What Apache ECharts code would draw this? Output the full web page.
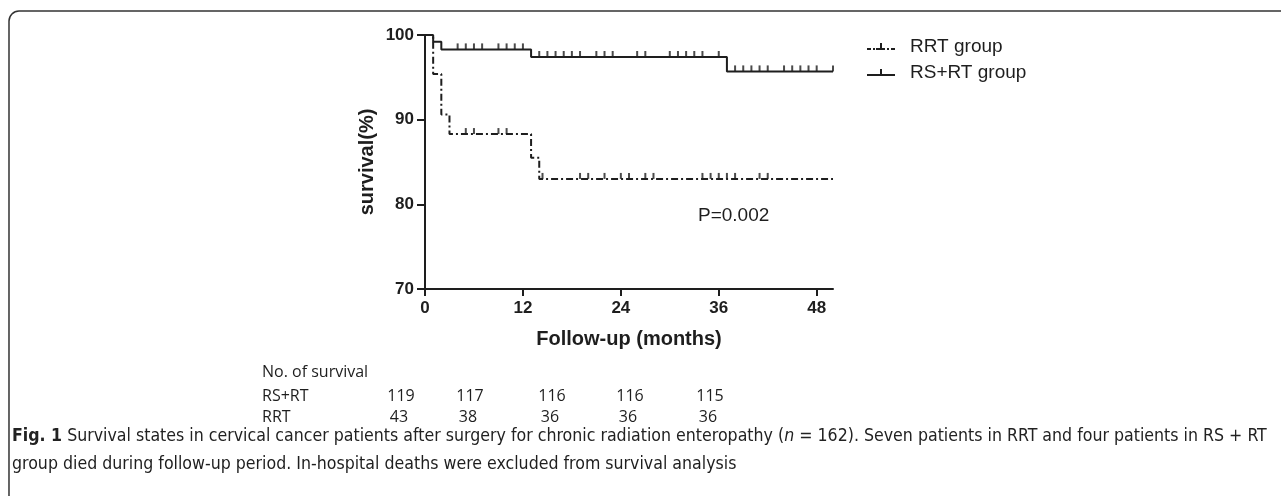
<!DOCTYPE html>
<html>
<head>
<meta charset="UTF-8" />
<script type="text/javascript" src="https://cdn.jsdelivr.net/npm/echarts@6.0.0/dist/echarts.min.js"></script>
<style>
  html, body { margin: 0; padding: 0; background: #fff; }
  #chartmain { width: 1281px; height: 496px; }
</style>
</head>
<body>
<div id="chartmain"></div>
<script type="text/javascript">
	// Kaplan-Meier steps (months, survival %)
	var rsTimes = [0, 1, 2, 13, 37, 50];
	var rsSurv = [100, 99.2, 98.3, 97.4, 95.7, 95.7];
	var rrtTimes = [0, 1, 2, 3, 13, 14, 50];
	var rrtSurv = [100, 95.4, 90.6, 88.3, 85.5, 83.0, 83.0];

	// censored cases (tick marks)
	var rsCensor = [4, 5, 6, 7, 9, 10, 11, 12, 14, 15, 16, 17, 18, 19, 21, 22, 23, 26, 27, 30, 31, 32, 33, 34, 36,
		38, 39, 40, 41, 42, 44, 45, 46, 47, 48, 50];
	var rrtCensor = [5, 6, 9, 10, 14.4, 19, 20, 22, 24, 25, 27, 28, 34, 35, 36, 37, 38, 41, 42];

	// axis ticks and the "No. of survival" table
	var tickMonths = [0, 12, 24, 36, 48];
	var rsAlive = [119, 117, 116, 116, 115];
	var rrtAlive = [43, 38, 36, 36, 36];

	var ink = '#1e1e1e';
	var arial = 'Liberation Sans, Arial, sans-serif';
	var tableFont = 'Open Sans, Noto Sans, sans-serif';
	var capFont = 'Liberation Sans Narrow, DejaVu Sans Condensed, sans-serif';
	var colX = [401, 470, 552, 630, 710];   // table column centres (px)

	function pairs(xs, ys) {
		var out = [];
		for (var i = 0; i < xs.length; i++) out.push([xs[i], ys[i]]);
		return out;
	}
	// survival value at time t (step function lookup)
	function survAt(xs, ys, t) {
		var v = ys[0];
		for (var i = 0; i < xs.length; i++) { if (xs[i] <= t) v = ys[i]; }
		return v;
	}
	function censorPts(cs, xs, ys) {
		return cs.map(function (t) { return [t, survAt(xs, ys, t)]; });
	}
	function label(txt, x, y, font, align) {
		return { type: 'text', x: x, y: y, silent: true,
			style: { text: txt, font: font, fill: ink, align: align || 'left', verticalAlign: 'middle' } };
	}

	var rrtIcon = 'path://M0,5h4v2h-4z M6,5h2v2h-2z M9,5h9v2h-9z M13,0h2v5h-2z M20,5h2v2h-2z M24,5h4v2h-4z';
	var rsIcon = 'path://M0,5h28v2h-28z M13,0h2v5h-2z';

	var graphics = [{
		type: 'rect', shape: { x: 9, y: 11, width: 1300, height: 520, r: 10 }, silent: true,
		style: { fill: 'none', stroke: '#333', lineWidth: 1.5 }
	},
		label('P=0.002', 698, 216, '19px ' + arial),
		label('No. of survival', 262, 372, '16px ' + tableFont),
		label('RS+RT', 262, 396, '16px ' + tableFont),
		label('RRT', 262, 417, '16px ' + tableFont)
	];
	for (var i = 0; i < tickMonths.length; i++) {
		graphics.push(label(String(rsAlive[i]), colX[i], 396, '16px ' + tableFont, 'center'));
		graphics.push(label(String(rrtAlive[i]), colX[i] - 2, 417, '16px ' + tableFont, 'center'));
	}
	graphics.push({
		type: 'text', x: 12, y: 436, silent: true,
		style: {
			text: '{b|Fig. 1} Survival states in cervical cancer patients after surgery for chronic radiation enteropathy ({i|n} = 162). Seven patients in RRT and four patients in RS + RT',
			font: '17.6px ' + capFont, fill: '#222', verticalAlign: 'middle',
			rich: {
				b: { fontWeight: 'bold', fontSize: 17.6, fontFamily: capFont, fill: '#222' },
				i: { fontStyle: 'italic', fontSize: 17.6, fontFamily: capFont, fill: '#222' }
			}
		}
	});
	graphics.push(label('group died during follow-up period. In-hospital deaths were excluded from survival analysis',
		12, 464, '17.6px ' + capFont));

	var option = {
		animation: false,
		grid: { left: 425, right: 448, top: 35, height: 254 },
		legend: {
			orient: 'vertical', left: 862, top: 32, itemWidth: 28, itemHeight: 7, itemGap: 7,
			textStyle: { fontFamily: arial, fontSize: 19, color: ink, padding: [0, 0, 0, 10] },
			data: [
				{ name: 'RRT group', icon: rrtIcon, itemStyle: { color: ink } },
				{ name: 'RS+RT group', icon: rsIcon, itemStyle: { color: ink } }
			]
		},
		xAxis: {
			type: 'value', min: 0, max: 50,
			name: 'Follow-up (months)', nameLocation: 'middle', nameGap: 40,
			nameTextStyle: { fontFamily: arial, fontWeight: 'bold', fontSize: 20, color: ink },
			axisLine: { lineStyle: { color: ink, width: 2 } },
			axisTick: { customValues: tickMonths, length: 7, lineStyle: { color: ink, width: 2 } },
			axisLabel: { customValues: tickMonths, margin: 11, fontFamily: arial, fontWeight: 'bold', fontSize: 17, color: ink },
			splitLine: { show: false }
		},
		yAxis: {
			type: 'value', min: 70, max: 100, interval: 10,
			name: 'survival(%)', nameLocation: 'middle', nameGap: 48,
			nameTextStyle: { fontFamily: arial, fontWeight: 'bold', fontSize: 20, color: ink },
			axisLine: { show: true, lineStyle: { color: ink, width: 2 } },
			axisTick: { show: true, length: 8, lineStyle: { color: ink, width: 2 } },
			axisLabel: { margin: 11, fontFamily: arial, fontWeight: 'bold', fontSize: 17, color: ink },
			splitLine: { show: false }
		},
		series: [{
			name: 'RRT group', type: 'line', step: 'end', symbol: 'none',
			data: pairs(rrtTimes, rrtSurv),
			lineStyle: { color: ink, width: 2, type: [7, 3, 2, 3] }
		}, {
			name: 'RS+RT group', type: 'line', step: 'end', symbol: 'none',
			data: pairs(rsTimes, rsSurv),
			lineStyle: { color: ink, width: 2 }
		}, {
			name: 'RRT censored', type: 'scatter', symbol: 'rect', symbolSize: [2, 6], symbolOffset: [0, -3],
			itemStyle: { color: ink }, data: censorPts(rrtCensor, rrtTimes, rrtSurv)
		}, {
			name: 'RS+RT censored', type: 'scatter', symbol: 'rect', symbolSize: [2, 6], symbolOffset: [0, -3],
			itemStyle: { color: ink }, data: censorPts(rsCensor, rsTimes, rsSurv)
		}],
		graphic: graphics
	};

	var myChart = echarts.init(document.getElementById('chartmain'));
	myChart.setOption(option);
</script>
</body>
</html>
